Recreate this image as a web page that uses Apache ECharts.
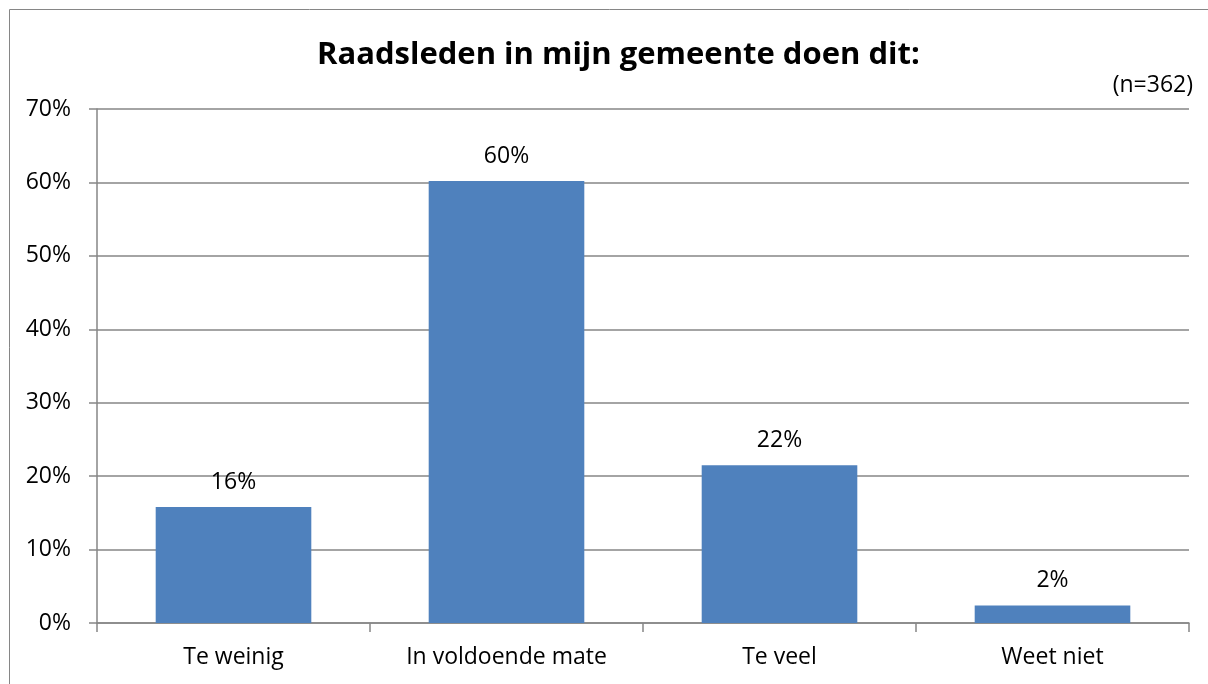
<!DOCTYPE html>
<html>
<head>
<meta charset="utf-8">
<script src="https://cdn.jsdelivr.net/npm/echarts@6/dist/echarts.min.js"></script>
<style>
  html, body { margin: 0; padding: 0; background: #fff; overflow: hidden; }
  #chart { width: 1208px; height: 684px; }
</style>
</head>
<body>
<div id="chart"></div>
<script>
// data
const categories = ['Te weinig', 'In voldoende mate', 'Te veel', 'Weet niet']
const values = [15.8, 60.2, 21.5, 2.4]
const labels = ['16%', '60%', '22%', '2%']

const font = '"Open Sans", sans-serif'
const gridColor = '#868686'

const myChart = echarts.init(document.getElementById('chart'))
const option = {
    animation: false,
    textStyle: { fontFamily: font },
    title: [
        {
            text: 'Raadsleden in mijn gemeente doen dit:',
            left: 312,
            top: 35,
            textStyle: { fontSize: 31, fontWeight: 'bold', color: '#000', fontFamily: font }
        },
        {
            text: '(n=362)',
            right: 10,
            top: 69,
            textStyle: { fontSize: 23, fontWeight: 'normal', color: '#000', fontFamily: font }
        }
    ],
    graphic: [
        {
            type: 'polyline',
            shape: { points: [[9.5, 700], [9.5, 9.5], [1300, 9.5]] },
            style: { fill: 'none', stroke: '#868686', lineWidth: 1 },
            silent: true
        }
    ],
    grid: { left: 97, right: 19, top: 109, bottom: 61 },
    xAxis: {
        type: 'category',
        data: categories,
        axisLine: { lineStyle: { color: gridColor, width: 1.5 } },
        axisTick: { show: true, length: 9, lineStyle: { color: gridColor, width: 1.5 } },
        axisLabel: { color: '#000', fontSize: 23, margin: 23, fontFamily: font }
    },
    yAxis: {
        type: 'value',
        min: 0,
        max: 70,
        interval: 10,
        axisLine: { show: true, lineStyle: { color: gridColor, width: 1.5 } },
        axisTick: { show: true, length: 8, lineStyle: { color: gridColor, width: 1.5 } },
        splitLine: { lineStyle: { color: gridColor, width: 1.5 } },
        axisLabel: { color: '#000', fontSize: 23, margin: 26, formatter: '{value}%', fontFamily: font }
    },
    series: [
        {
            type: 'bar',
            data: values,
            barWidth: '57%',
            itemStyle: { color: '#4F81BD' },
            label: {
                show: true,
                position: 'top',
                distance: 13,
                color: '#000',
                fontSize: 23,
                fontFamily: font,
                formatter: p => labels[p.dataIndex]
            }
        }
    ]
}
myChart.setOption(option)
</script>
</body>
</html>
